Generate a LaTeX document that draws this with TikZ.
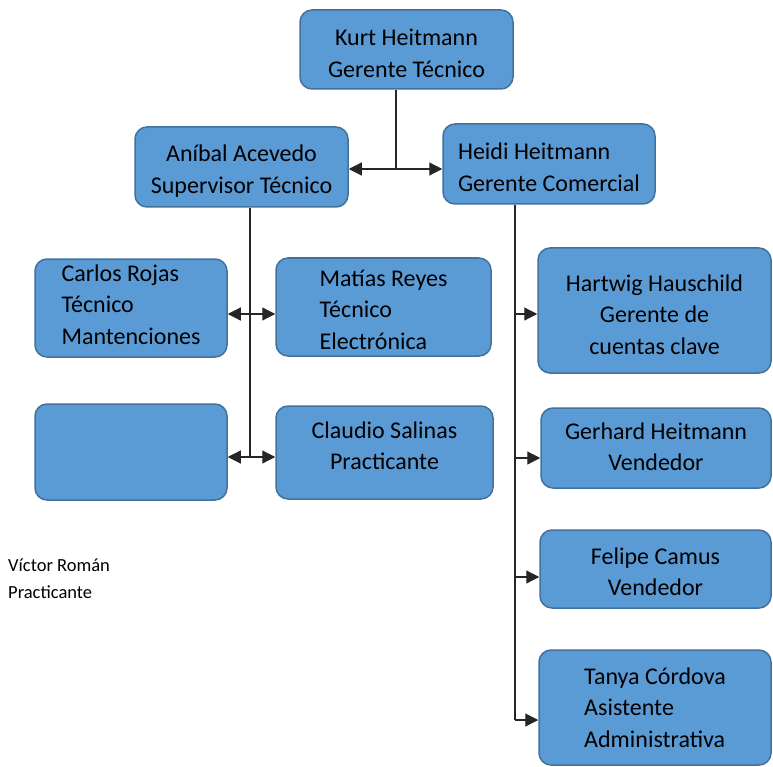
\documentclass[tikz,border=0pt]{standalone}
\usepackage{fontspec}
\setmainfont{Carlito}
\usetikzlibrary{arrows.meta}
\definecolor{boxfill}{HTML}{5B9BD5}
\definecolor{boxline}{HTML}{41719C}
\tikzset{
  >={Triangle[length=13pt,width=13pt]},
  base/.style = {draw=boxline, fill=boxfill, line width=1.5pt, rounded corners=12pt,
                 inner sep=0pt, font=\fontsize{24}{31.5}\selectfont},
}

\begin{document}
\begin{tikzpicture}[x=1pt, y=-1pt,
            puesto/.style    = {base, align=center},
            puestoizq/.style = {base, align=left},
            linea/.style     = {text height=#1, text depth=0pt},
            link/.style      = {line width=1.2pt, draw=black!85},
        ]
        \useasboundingbox (0,0) rectangle (773,767);

        \node[puesto, linea=56pt, minimum width=213pt, minimum height=79pt] (kurt) at (406.5,49.5) {Kurt Heitmann\\Gerente Técnico};
        \node[puesto, linea=53pt, minimum width=213pt, minimum height=80pt] (anibal) at (241.5,167) {Aníbal Acevedo\\Supervisor Técnico};
        \node[puestoizq, linea=55pt, minimum width=212pt, minimum height=80pt] (heidi) at (549,164) {Heidi Heitmann\\Gerente Comercial};

        \node[puestoizq, linea=72pt, minimum width=192pt, minimum height=98pt] (carlos) at (131,308) {Carlos Rojas\\Técnico\\Mantenciones};
        \node[puestoizq, linea=84pt, minimum width=215pt, minimum height=98pt] (matias) at (383.5,307) {Matías Reyes\\Técnico\\Electrónica};
        \node[puesto, minimum width=192pt, minimum height=96pt] (vacante) at (131,452) {};
        \node[puesto, linea=34pt, minimum width=217pt, minimum height=93pt] (claudio) at (384.5,452.5) {Claudio Salinas\\Practicante};

        \node[puesto, linea=87pt, minimum width=233pt, minimum height=125pt] (hartwig) at (654.5,310.5) {Hartwig Hauschild\\Gerente de\\cuentas clave};
        \node[puesto, linea=45pt, minimum width=230pt, minimum height=80pt] (gerhard) at (656,448) {Gerhard Heitmann\\Vendedor};
        \node[puesto, linea=53pt, minimum width=231pt, minimum height=78pt] (felipe) at (655.5,569) {Felipe Camus\\Vendedor};
        \node[puestoizq, linea=79pt, minimum width=232pt, minimum height=115pt] (tanya) at (655,707.5) {Tanya Córdova\\Asistente\\Administrativa};

        \node[font=\fontsize{18.5}{27}\selectfont, align=left, anchor=west, inner sep=0pt] (victor) at (8,578.5) {Víctor Román\\Practicante};

        % gerente tecnico
        \coordinate (kurtpie) at (396,169);
        \draw[link] (kurt.south -| kurtpie) -- (kurtpie);
        \draw[link,->] (kurtpie) -- (anibal.east |- kurtpie);
        \draw[link,->] (kurtpie) -- (heidi.west |- kurtpie);

        % supervisor tecnico
        \coordinate (anibalA) at (250,314);
        \coordinate (anibalB) at (250,457);
        \draw[link] (anibal.south -| anibalB) -- (anibalB);
        \draw[link,->] (anibalA) -- (carlos.east |- anibalA);
        \draw[link,->] (anibalA) -- (matias.west |- anibalA);
        \draw[link,->] (anibalB) -- (vacante.east |- anibalB);
        \draw[link,->] (anibalB) -- (claudio.west |- anibalB);

        % gerente comercial
        \coordinate (heidiA) at (515,314);
        \coordinate (heidiB) at (515,458);
        \coordinate (heidiC) at (515,577);
        \coordinate (heidiD) at (515,720);
        \draw[link] (heidi.south -| heidiD) -- (heidiD);
        \draw[link,->] (heidiA) -- (hartwig.west |- heidiA);
        \draw[link,->] (heidiB) -- (gerhard.west |- heidiB);
        \draw[link,->] (heidiC) -- (felipe.west |- heidiC);
        \draw[link,->] (heidiD) -- (tanya.west |- heidiD);

        \end{tikzpicture}
\end{document}
